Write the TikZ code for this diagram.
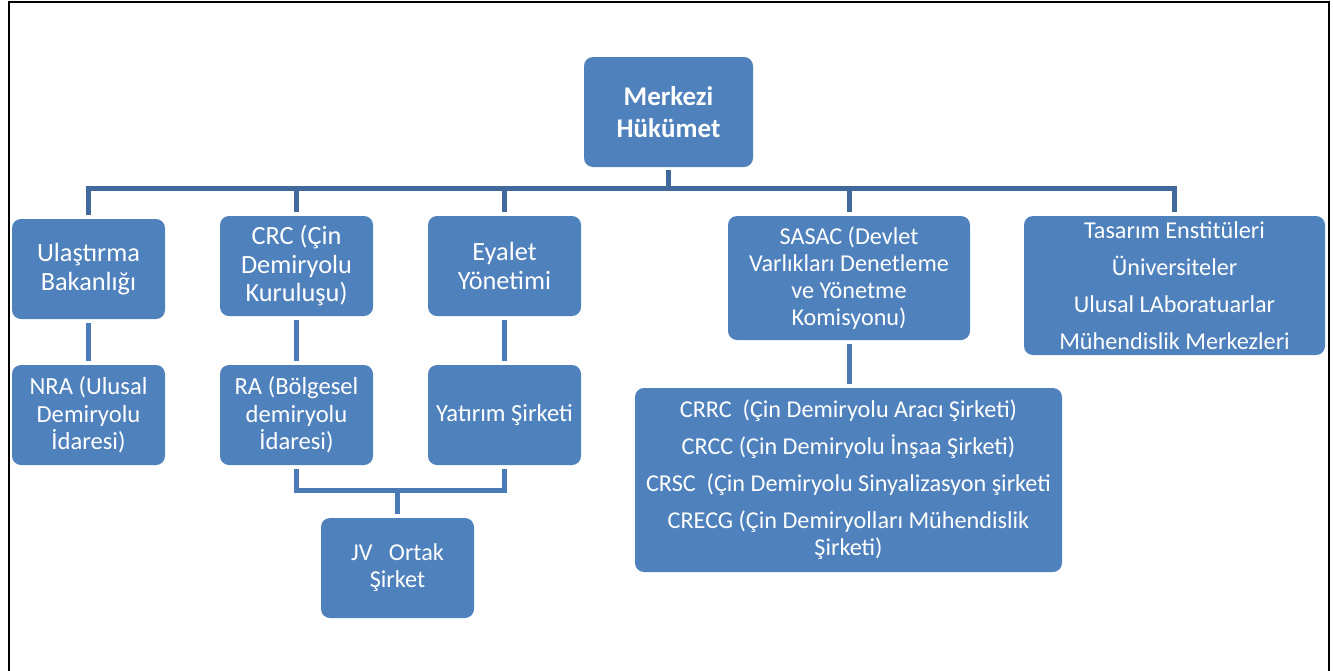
\documentclass[tikz,border=0pt]{standalone}
\usepackage{fontspec}
\setmainfont{Carlito}
\usepackage{tikz}
\usetikzlibrary{calc}
\definecolor{boxblue}{HTML}{4F81BD}
\definecolor{busblue}{HTML}{41699B}
\definecolor{linkblue}{HTML}{4A7BB7}
\tikzset{
  unit/.style={rectangle, rounded corners=9pt, fill=boxblue, text=white, align=center,
    inner sep=0pt, font=\fontsize{24.2}{27}\selectfont},
  small/.style={unit, minimum width=153pt, minimum height=100pt,
    font=\fontsize{24.6}{27.5}\selectfont},
  upper/.style={small, font=\fontsize{26.3}{28.5}\selectfont},
  bus/.style={draw=busblue, line width=5pt, shorten <=3pt, shorten >=4pt},
  link/.style={draw=linkblue, line width=5pt, shorten <=4pt, shorten >=4pt},
  frame/.style={draw=black, line width=1.6pt}
}

\begin{document}
\begin{tikzpicture}[x=1pt, y=-1pt]
  \useasboundingbox (0,0) rectangle (1333,670);
  \draw[frame] (9,700) -- (9,2) -- (1329,2) -- (1329,700);

  % top
  \node[unit, minimum width=169pt, minimum height=110pt,
    font=\bfseries\fontsize{27}{32}\selectfont] (mh) at (668.5,112) {Merkezi\\Hükümet};

  % first level
  \node[upper] (ub) at (88.5,269) {Ulaştırma\\Bakanlığı};
  \node[upper] (crc) at (296.5,266) {CRC (Çin\\Demiryolu\\Kuruluşu)};
  \node[upper] (ey) at (504.5,266) {Eyalet\\Yönetimi};
  \node[unit, minimum width=242pt, minimum height=124pt] (sas) at (849,278)
    {SASAC (Devlet\\Varlıkları Denetleme\\ve Yönetme\\Komisyonu)};
  \node[unit, minimum width=301pt, minimum height=139pt] (tas) at (1174.5,285.5)
    {Tasarım Enstitüleri\\[10pt]Üniversiteler\\[10pt]Ulusal LAboratuarlar\\[10pt]Mühendislik Merkezleri};

  % second level
  \node[small] (nra) at (88.5,415) {NRA (Ulusal\\Demiryolu\\İdaresi)};
  \node[small] (ra) at (296.5,415) {RA (Bölgesel\\demiryolu\\İdaresi)};
  \node[small] (yat) at (504.5,415) {Yatırım Şirketi};
  \node[unit, minimum width=427pt, minimum height=184pt] (crrc) at (848.5,480)
    {CRRC\ \ (Çin Demiryolu Aracı Şirketi)\\[10pt]
     CRCC (Çin Demiryolu İnşaa Şirketi)\\[10pt]
     CRSC\ \ (Çin Demiryolu Sinyalizasyon şirketi\\[10pt]
     CRECG (Çin Demiryolları Mühendislik\\Şirketi)};
  \node[small, font=\fontsize{24.2}{27}\selectfont] (jv) at (397.5,568) {JV\ \ \ Ortak\\Şirket};

  % connectors
  \coordinate (hub) at (668.5,188);
  \foreach \n in {ub,crc,ey,sas,tas}
    \draw[bus] (mh.south) -- (hub) -| (\n.north);
  \draw[link] (ub.south) -- (nra.north);
  \draw[link] (crc.south) -- (ra.north);
  \draw[link] (ey.south) -- (yat.north);
  \draw[link] (sas.south) -- (sas.south |- crrc.north);
  \coordinate (jn) at (397.5,490);
  \draw[link, line cap=butt] (ra.south) |- (jn) -| (yat.south);
  \draw[link, shorten <=0pt] (jn) -- (jv.north);
\end{tikzpicture}
\end{document}
